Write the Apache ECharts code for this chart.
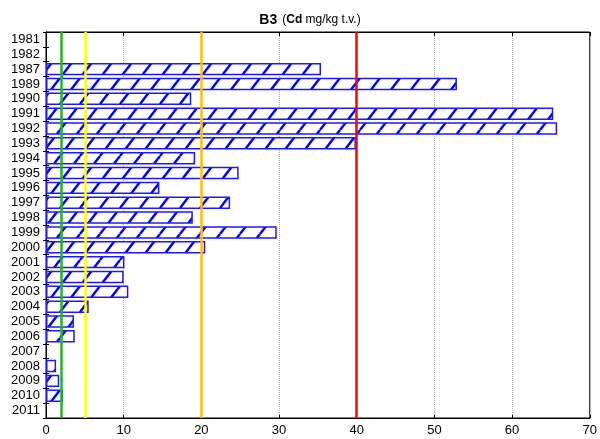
<!DOCTYPE html>
<html>
<head>
<meta charset="utf-8">
<script src="https://cdn.jsdelivr.net/npm/echarts@6/dist/echarts.min.js"></script>
<style>html,body{margin:0;padding:0;background:#fff;}#c{width:600px;height:439px;}</style>
</head>
<body>
<div id="c"></div>
<script>
const years = ['1981','1982','1987','1989','1990','1991','1992','1993','1994','1995','1996','1997','1998','1999','2000','2001','2002','2003','2004','2005','2006','2007','2008','2009','2010','2011'];
const cdValues = [null,null,35.4,52.9,18.7,65.3,65.8,39.9,19.2,24.8,14.6,23.7,18.9,29.7,20.5,10.1,10.0,10.6,5.5,3.6,3.7,null,1.3,1.7,2.2,null];
const xTicks = [0,10,20,30,40,50,60,70];
const limits = [2,5,20,40];
const limitColors = ['#22b422','#ffff00','#ffc000','#ff0000'];

const tile = document.createElement('canvas');
tile.width = 20; tile.height = 26;
const g = tile.getContext('2d');
g.fillStyle = '#ffffff';
g.fillRect(0,0,20,26);
g.strokeStyle = '#0000ff';
g.lineWidth = 2.5;
[-20,0,20].forEach(function(o){
  g.beginPath(); g.moveTo(o,26); g.lineTo(o+20,0); g.stroke();
});

const chart = echarts.init(document.getElementById('c'), null, {renderer:'canvas'});
const font = 'Liberation Sans, Arial, sans-serif';
chart.setOption({
  animation:false,
  backgroundColor:'#ffffff',
  title:{
    text:'{b|B3} {n|(}{b2|Cd}{n| mg/kg t.v.)}',
    left:305, top:6, textAlign:'center',
    textStyle:{fontWeight:'normal',rich:{
      b:{fontFamily:font,fontWeight:'bold',fontSize:14,color:'#000'},
      b2:{fontFamily:font,fontWeight:'bold',fontSize:12,color:'#000'},
      n:{fontFamily:font,fontWeight:'normal',fontSize:12,color:'#000'}
    }}
  },
  grid:{left:46,right:7,top:32,bottom:21,show:true,borderColor:'#000',borderWidth:1,backgroundColor:'#fff'},
  xAxis:[{
    type:'value',min:xTicks[0],max:xTicks[xTicks.length-1],interval:10,position:'bottom',
    axisLine:{show:true,lineStyle:{color:'#000'}},
    axisTick:{show:true,inside:true,length:3,lineStyle:{color:'#000'}},
    axisLabel:{fontFamily:font,fontSize:13,color:'#000',margin:6},
    splitLine:{show:true,lineStyle:{type:'dotted',color:'#aaaaaa'}}
  },{
    type:'value',min:0,max:70,interval:10,position:'top',
    axisLine:{show:true,lineStyle:{color:'#000'}},
    axisTick:{show:true,inside:true,length:4,lineStyle:{color:'#000'}},
    axisLabel:{show:false},splitLine:{show:false}
  }],
  yAxis:[{
    type:'category',data:years,inverse:true,position:'left',
    axisLine:{show:true,lineStyle:{color:'#000'}},
    axisTick:{show:true,inside:true,length:3,interval:0,lineStyle:{color:'#000'}},
    axisLabel:{fontFamily:font,fontSize:13,color:'#000',margin:6,interval:0},
    splitLine:{show:false}
  },{
    type:'category',data:years,inverse:true,position:'right',
    axisLine:{show:true,lineStyle:{color:'#000'}},
    axisTick:{show:true,inside:true,length:3,interval:0,lineStyle:{color:'#000'}},
    axisLabel:{show:false},splitLine:{show:false}
  }],
  series:[{
    type:'bar',
    data:cdValues,
    barCategoryGap:'16%',
    itemStyle:{color:{image:tile,repeat:'repeat'},borderColor:'#1c1cf0',borderWidth:1.5},
    markLine:{
      silent:true,symbol:['none','none'],label:{show:false},
      data:limits.map(function(v,i){return {xAxis:v,lineStyle:{color:limitColors[i],width:2.5,type:'solid'}};})
    }
  }]
});
</script>
</body>
</html>
